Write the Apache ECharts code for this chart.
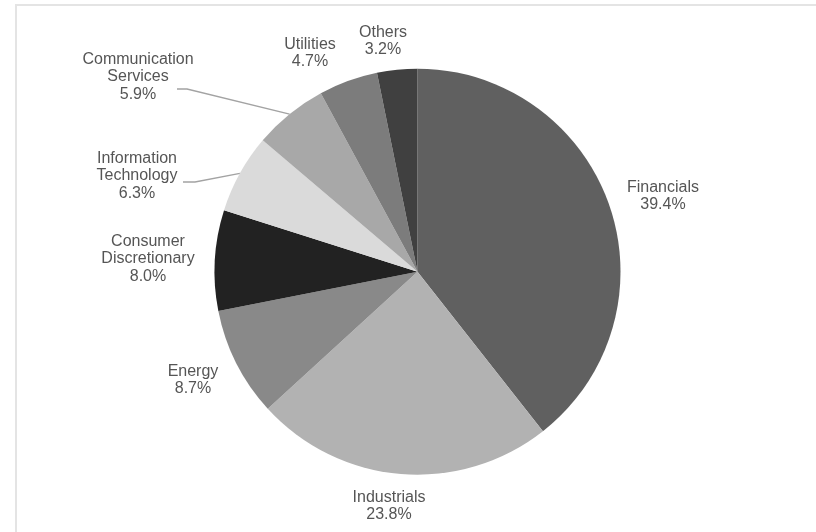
<!DOCTYPE html>
<html>
<head>
<meta charset="utf-8">
<title>Sector allocation</title>
<script src="https://cdn.jsdelivr.net/npm/echarts@6/dist/echarts.min.js"></script>
<style>
  html, body { margin: 0; padding: 0; background: #fff; }
  #chart { width: 816px; height: 532px; }
</style>
</head>
<body>
<div id="chart"></div>
<script>
// sector names (line breaks as in the original labels) and weights in %
const sectors = ['Financials', 'Industrials', 'Energy', 'Consumer\nDiscretionary',
  'Information\nTechnology', 'Communication\nServices', 'Utilities', 'Others'];
const weights = [39.4, 23.8, 8.7, 8.0, 6.3, 5.9, 4.7, 3.2];
const shades = ['#606060', '#b2b2b2', '#898989', '#222222', '#dadada', '#a8a8a8', '#7c7c7c', '#404040'];

// label anchors (centre of the text block), placed like the original best-fit labels
const labelSpots = [[663, 196], [389, 506], [193, 380], [148, 259], [137, 176], [138, 77], [310, 53], [383, 41]];
// leader lines only for two slices: bend / end offsets from the label centre
const leaders = { 4: { bend: [58, 6], end: [46, 6] }, 5: { bend: [49, 12], end: [39, 12] } };

const pieCenter = [417.5, 271.7];
const pieRadius = 203;

const chart = echarts.init(document.getElementById('chart'));

const total = weights.reduce((a, b) => a + b, 0);
function edgePoint(i) {
  // mid angle of slice i, clockwise from 12 o'clock
  let before = 0;
  for (let k = 0; k < i; k++) before += weights[k];
  const ang = (before + weights[i] / 2) / total * Math.PI * 2;
  return [pieCenter[0] + pieRadius * Math.sin(ang), pieCenter[1] - pieRadius * Math.cos(ang)];
}

chart.setOption({
  backgroundColor: '#ffffff',
  animation: false,
  graphic: [{
    type: 'rect',
    silent: true,
    shape: { x: 16, y: 5, width: 830, height: 560 },
    style: { fill: 'none', stroke: '#e4e4e4', lineWidth: 2 }
  }],
  series: [{
    type: 'pie',
    center: pieCenter,
    radius: pieRadius,
    startAngle: 90,
    clockwise: true,
    avoidLabelOverlap: false,
    itemStyle: { borderWidth: 0 },
    label: {
      show: true,
      position: 'outside',
      color: '#555555',
      fontFamily: 'Liberation Sans, Arial, sans-serif',
      fontSize: 16,
      lineHeight: 17.5,
      align: 'center',
      formatter: (p) => p.name + '\n' + weights[p.dataIndex].toFixed(1) + '%'
    },
    labelLine: { show: false, lineStyle: { color: '#a3a3a3', width: 1.4 } },
    labelLayout: (p) => {
      const i = p.dataIndex;
      const s = labelSpots[i];
      const out = { x: s[0], y: s[1], align: 'center', verticalAlign: 'middle' };
      const l = leaders[i];
      if (l) {
        out.labelLinePoints = [
          edgePoint(i),
          [s[0] + l.bend[0], s[1] + l.bend[1]],
          [s[0] + l.end[0], s[1] + l.end[1]]
        ];
      }
      return out;
    },
    emphasis: { disabled: true },
    data: sectors.map((name, i) => ({
      name: name,
      value: weights[i],
      itemStyle: { color: shades[i] },
      labelLine: { show: !!leaders[i] }
    }))
  }]
});
</script>
</body>
</html>
